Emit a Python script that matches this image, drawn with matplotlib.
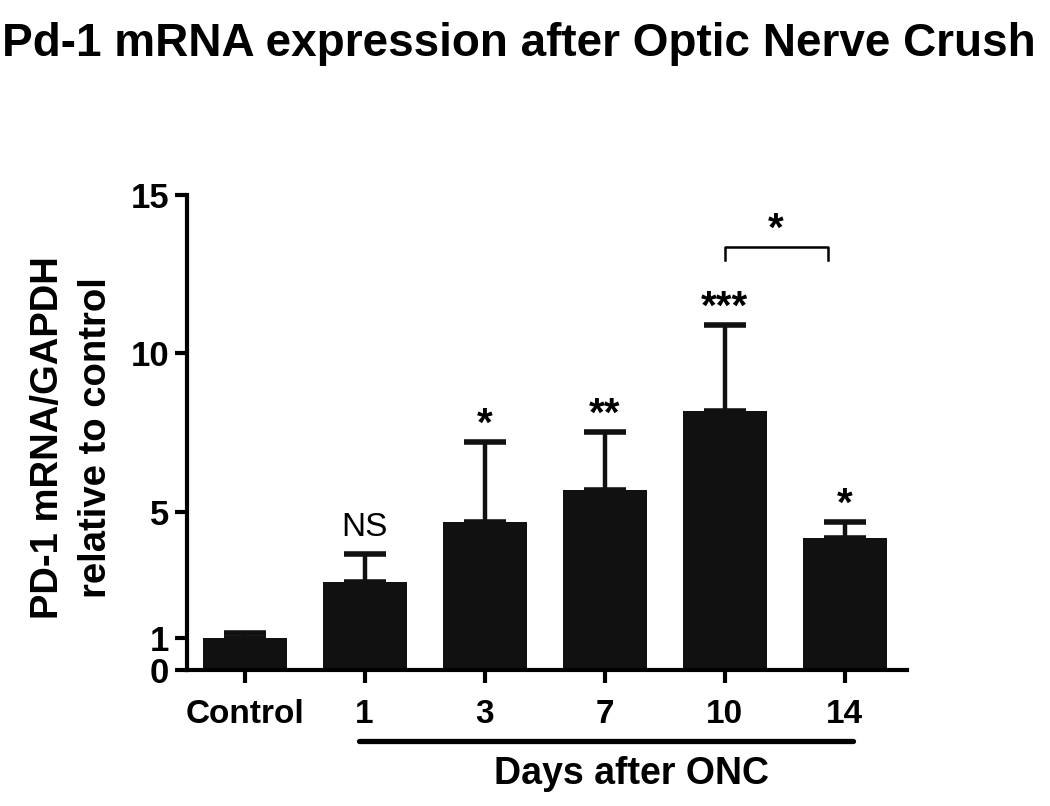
import matplotlib
matplotlib.use("Agg")
import matplotlib.pyplot as plt

# data
groups = ["Control", "1", "3", "7", "10", "14"]
means = [1.01, 2.78, 4.67, 5.68, 8.18, 4.17]
sems = [0.16, 0.88, 2.53, 1.84, 2.71, 0.50]
stars = ["", "NS", "*", "**", "***", "*"]
yticks = [0, 1, 5, 10, 15]

bar_color = "#111111"
sans = ["Liberation Sans", "DejaVu Sans"]

fig = plt.figure(figsize=(10.5, 8.06), dpi=100)
ax = fig.add_axes([187 / 1050, 1 - 670 / 806, 720 / 1050, 475 / 806])

x = list(range(len(groups)))
ax.bar(x, means, width=0.7, color=bar_color, zorder=2)
ax.errorbar(x, means, yerr=[[0] * len(sems), sems], fmt="none", ecolor=bar_color,
            elinewidth=3.2, capsize=15, capthick=4, zorder=1)

# significance marks above the error bars
for xi, m, s, lab in zip(x, means, sems, stars):
    if not lab:
        continue
    if lab == "NS":
        ax.text(xi, m + s + 0.35, lab, ha="center", va="bottom", fontsize=24,
                family=sans)
    else:
        ax.text(xi, m + s - 0.05, lab, ha="center", va="bottom", fontsize=29,
                fontweight="bold", family=sans)

# bracket between day 10 and day 14
bx0, bx1, by = 4.0, 4.86, 13.36
ax.plot([bx0, bx0, bx1, bx1], [12.95, by, by, 12.95], color="black", lw=1.8,
        clip_on=False)
ax.text((bx0 + bx1) / 2, 13.3, "*", ha="center", va="bottom", fontsize=29,
        fontweight="bold", family=sans)

ax.set_xlim(-0.48, 5.52)
ax.set_ylim(0, 15)
ax.set_yticks(yticks)
ax.set_yticklabels([str(t) for t in yticks], fontsize=25, fontweight="bold",
                   family=sans)
ax.set_xticks(x)
ax.set_xticklabels(groups, fontsize=24, fontweight="bold", family=sans)
ax.tick_params(axis="both", length=9, width=3, color="black")
ax.tick_params(axis="x", pad=12)
ax.tick_params(axis="y", pad=4)

for side in ["top", "right"]:
    ax.spines[side].set_visible(False)
for side in ["left", "bottom"]:
    ax.spines[side].set_linewidth(3)

ax.set_ylabel("PD-1 mRNA/GAPDH\nrelative to control", fontsize=27.5,
              fontweight="bold", family=sans, multialignment="center",
              linespacing=1.44)
ax.yaxis.set_label_coords(-0.101, 0.49)

# underline for the day groups
ax.plot([0.95, 5.07], [-0.149, -0.149], transform=ax.get_xaxis_transform(),
        color="black", lw=3.8, solid_capstyle="round", clip_on=False)
ax.text(3.22, -0.218, "Days after ONC", transform=ax.get_xaxis_transform(),
        ha="center", va="center", fontsize=27, fontweight="bold", family=sans)

fig.text(0.002, 1 - 44 / 806, "Pd-1 mRNA expression after Optic Nerve Crush",
         ha="left", va="center", fontsize=33, fontweight="bold", family=sans)

fig.savefig("out.png", dpi=100)
